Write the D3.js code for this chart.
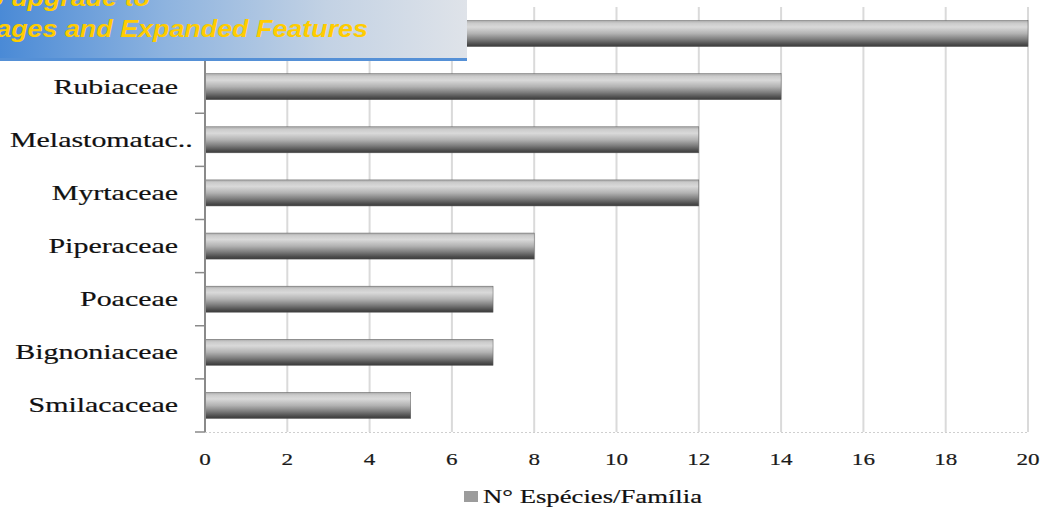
<!DOCTYPE html>
<html>
<head>
<meta charset="utf-8">
<script src="https://cdn.jsdelivr.net/npm/d3@7"></script>
<style>
  html, body { margin: 0; padding: 0; background: #fff; }
  svg { display: block; }
</style>
</head>
<body>
<svg id="chart" width="1041" height="511"></svg>
<script>
const categories = ["Fabaceae", "Rubiaceae", "Melastomatac..", "Myrtaceae", "Piperaceae", "Poaceae", "Bignoniaceae", "Smilacaceae"];
const values = [20, 14, 12, 12, 8, 7, 7, 5];
const xTicks = [0, 2, 4, 6, 8, 10, 12, 14, 16, 18, 20];
const seriesName = "N\u00B0 Esp\u00E9cies/Fam\u00EDlia";
const bannerLines = ["Click Here to upgrade to", "Unlimited Pages and Expanded Features"];

const svg = d3.select("#chart");
const pLeft = 205, pRight = 1028, pTop = 7, pBottom = 432;
const SERIF = "Liberation Serif, Times New Roman, serif";

const x = d3.scaleLinear().domain([0, 20]).range([pLeft, pRight]);
const y = d3.scaleBand().domain(categories).range([pTop, pBottom]).paddingInner(0.51).paddingOuter(0.255);
const yb = d3.scaleBand().domain(categories).range([pTop, pBottom]);

const defs = svg.append("defs");
const grad = defs.append("linearGradient").attr("id", "barGrad").attr("x1", 0).attr("y1", 0).attr("x2", 0).attr("y2", 1);
[[0, "#a9a9a9"], [0.1, "#cbcbcb"], [0.25, "#d9d9d9"], [0.5, "#b2b2b2"], [0.72, "#7e7e7e"], [0.9, "#4f4f4f"], [1, "#3a3a3a"]]
  .forEach(([o, c]) => grad.append("stop").attr("offset", o).attr("stop-color", c));

const bgrad = defs.append("linearGradient").attr("id", "bannerGrad").attr("x1", 0).attr("y1", 0).attr("x2", 1).attr("y2", 0);
[[0, "#4a8ad6"], [0.35, "#8db3df"], [0.7, "#c3d2e4"], [1, "#dfe3e9"]]
  .forEach(([o, c]) => bgrad.append("stop").attr("offset", o).attr("stop-color", c));

// gridlines
svg.append("g").selectAll("line").data(xTicks.slice(1)).join("line")
  .attr("x1", d => x(d)).attr("x2", d => x(d))
  .attr("y1", pTop).attr("y2", pBottom)
  .attr("stroke", "#dadada").attr("stroke-width", 2);

// bottom axis dotted
svg.append("line").attr("x1", pLeft).attr("x2", pRight).attr("y1", pBottom + 0.5).attr("y2", pBottom + 0.5)
  .attr("stroke", "#cfcfcf").attr("stroke-width", 1).attr("stroke-dasharray", "2,2");

// x tick labels
svg.append("g").selectAll("text").data(xTicks).join("text")
  .attr("transform", d => `translate(${x(d)},${465}) scale(1.32,1)`)
  .attr("text-anchor", "middle")
  .attr("font-family", SERIF)
  .attr("font-size", 17.5)
  .attr("fill", "#1a1a1a").attr("stroke", "#1a1a1a").attr("stroke-width", 0.2)
  .text(d => d);

// bars
svg.append("g").selectAll("rect").data(values).join("rect")
  .attr("x", x(0))
  .attr("y", (d, i) => y(categories[i]))
  .attr("width", d => x(d) - x(0))
  .attr("height", y.bandwidth())
  .attr("fill", "url(#barGrad)")
  .attr("stroke", "#5a5a5a").attr("stroke-width", 0.5);

// y axis line and ticks
svg.append("line").attr("x1", pLeft).attr("x2", pLeft).attr("y1", pTop).attr("y2", pBottom)
  .attr("stroke", "#8a8a8a").attr("stroke-width", 2);
const bounds = categories.map(c => yb(c)).concat([pBottom]);
svg.append("g").selectAll("line").data(bounds).join("line")
  .attr("x1", pLeft - 10).attr("x2", pLeft).attr("y1", d => d).attr("y2", d => d)
  .attr("stroke", "#8a8a8a").attr("stroke-width", 1.5);

// category labels
svg.append("g").selectAll("text").data(categories).join("text")
  .attr("transform", d => d.endsWith("..")
    ? `translate(${10},${y(d) + y.bandwidth() / 2 + 7}) scale(1.36,1)`
    : `translate(${178},${y(d) + y.bandwidth() / 2 + 7}) scale(1.36,1)`)
  .attr("text-anchor", d => d.endsWith("..") ? "start" : "end")
  .attr("font-family", SERIF)
  .attr("font-size", 22)
  .attr("fill", "#111").attr("stroke", "#111").attr("stroke-width", 0.2)
  .text(d => d);

// legend
svg.append("rect").attr("x", 464).attr("y", 491).attr("width", 14).attr("height", 11).attr("fill", "#9c9c9c");
svg.append("text")
  .attr("transform", `translate(${483},${503}) scale(1.37,1)`)
  .attr("font-family", SERIF)
  .attr("font-size", 19.5)
  .attr("fill", "#111").attr("stroke", "#111").attr("stroke-width", 0.2)
  .text(seriesName);

// overlay banner
const banner = svg.append("g");
banner.append("rect").attr("x", 0).attr("y", 0).attr("width", 467).attr("height", 60).attr("fill", "url(#bannerGrad)");
banner.append("rect").attr("x", 0).attr("y", 58).attr("width", 467).attr("height", 3).attr("fill", "#5590d6");
banner.append("text").attr("transform", "translate(150,6) scale(1.12,1)")
  .attr("text-anchor", "end")
  .attr("font-family", "Liberation Sans, Arial, sans-serif").attr("font-weight", "bold").attr("font-style", "italic")
  .attr("font-size", 24).attr("fill", "#ffcc00").text(bannerLines[0]);
banner.append("text").attr("transform", "translate(368,37) scale(1.12,1)")
  .attr("text-anchor", "end")
  .attr("font-family", "Liberation Sans, Arial, sans-serif").attr("font-weight", "bold").attr("font-style", "italic")
  .attr("font-size", 24).attr("fill", "#ffcc00").text(bannerLines[1]);
</script>
</body>
</html>
